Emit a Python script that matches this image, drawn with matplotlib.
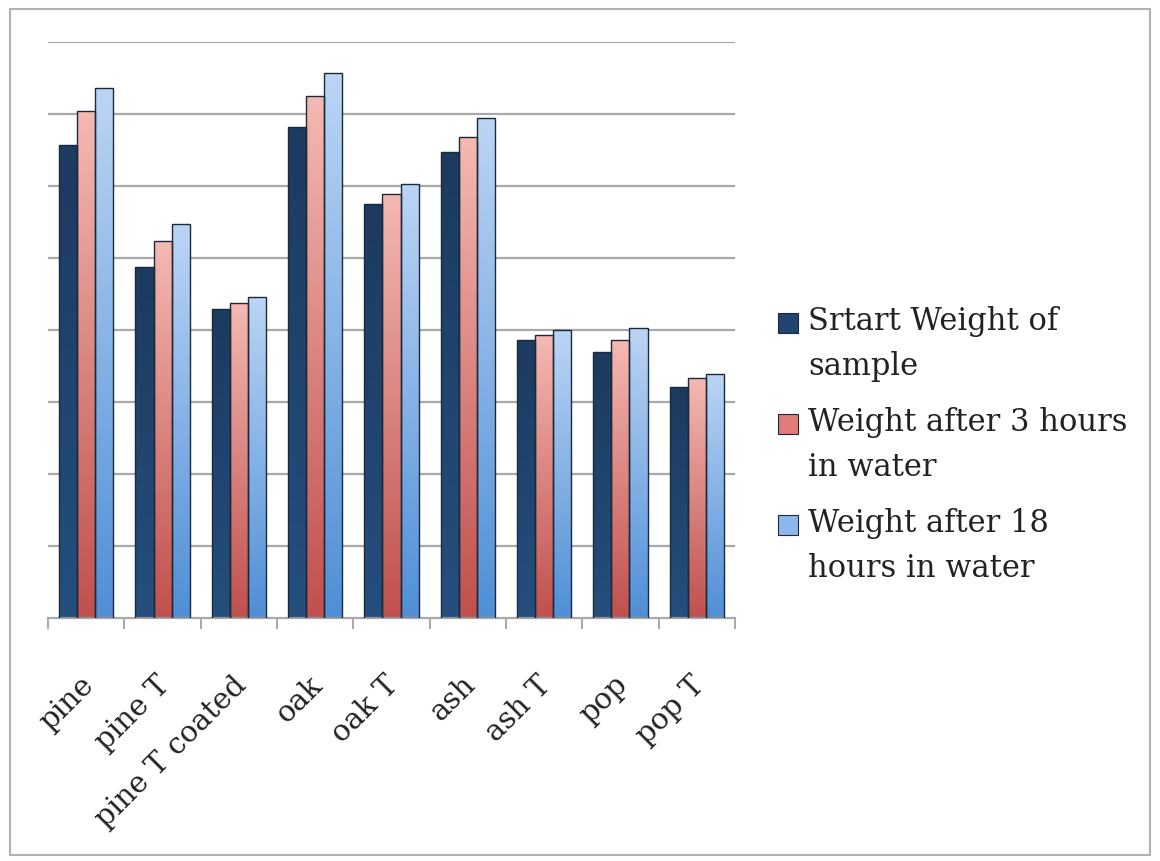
import numpy as np
import matplotlib.pyplot as plt
import matplotlib.transforms as mtransforms
from matplotlib.colors import LinearSegmentedColormap
from matplotlib.patches import Rectangle

woods = ["pine", "pine T", "pine T coated", "oak", "oak T", "ash", "ash T", "pop", "pop T"]
start_weight = [65.7, 48.8, 42.9, 68.2, 57.5, 64.7, 38.6, 36.9, 32.1]
after_3h = [70.4, 52.4, 43.8, 72.5, 58.9, 66.8, 39.3, 38.6, 33.3]
after_18h = [73.6, 54.7, 44.6, 75.7, 60.3, 69.4, 40.0, 40.3, 33.9]
series_names = ["Srtart Weight of\nsample", "Weight after 3 hours\nin water", "Weight after 18\nhours in water"]

# (top colour, bottom colour) for each series
grads = [("#1d3a5f", "#244f7e"), ("#f5b9b3", "#c0504d"), ("#bcd5f5", "#4f8fd6")]
swatch = ["#1f4570", "#e07b78", "#8db6ea"]
serif = ["DejaVu Serif"]

fig = plt.figure(figsize=(11.6, 8.61), dpi=100)
ax = fig.add_axes([0.0414, 0.2822, 0.5922, 0.669])

x = np.arange(len(woods))
w = 0.236
ymax = 80
for i, vals in enumerate([start_weight, after_3h, after_18h]):
    bars = ax.bar(x + (i - 1) * w, vals, w, facecolor="none",
                  edgecolor="#1a2a3a", linewidth=1.0, zorder=3)
    cmap = LinearSegmentedColormap.from_list("g%d" % i, [grads[i][1], grads[i][0]])
    for b in bars:
        bx, by = b.get_x(), b.get_y()
        bw, bh = b.get_width(), b.get_height()
        im = ax.imshow(np.linspace(0, 1, 256).reshape(-1, 1), cmap=cmap, origin="lower",
                       extent=[bx, bx + bw, by, by + bh], aspect="auto", zorder=2)
        im.set_clip_path(b)

ax.set_xlim(-0.5, len(woods) - 0.5)
ax.set_ylim(0, ymax)
ax.set_yticks(np.arange(10, ymax + 1, 10))
ax.yaxis.grid(True, color="#a8a8a8", linewidth=1.6)
ax.set_axisbelow(True)
ax.tick_params(axis="y", length=0, labelleft=False)
for s in ["left", "right", "top"]:
    ax.spines[s].set_visible(False)
ax.spines["bottom"].set_color("#a8a8a8")
ax.spines["bottom"].set_linewidth(1.6)

# ticks sit between groups, labels sit under each group
ax.set_xticks(np.arange(-0.5, len(woods)), minor=False)
ax.set_xticklabels([])
ax.tick_params(axis="x", which="major", length=8, color="#a8a8a8", width=1.4)
ax.set_xticks(x, minor=True)
ax.set_xticklabels(woods, minor=True, rotation=45, ha="right", rotation_mode="anchor",
                   fontsize=21, family=serif, color="#222222")
ax.tick_params(axis="x", which="minor", length=0, pad=38)
shift = mtransforms.ScaledTranslation(-7 / 100, 0, fig.dpi_scale_trans)
for lab in ax.get_xticklabels(minor=True):
    lab.set_transform(lab.get_transform() + shift)

# legend drawn by hand so the swatch lines up with the first text line
for i, name in enumerate(series_names):
    base = 330 + 101 * i
    fig.patches.append(Rectangle((778 / 1160, 1 - (base + 3) / 861), 20 / 1160, 20 / 861,
                                 transform=fig.transFigure, facecolor=swatch[i],
                                 edgecolor="#1a2a3a", linewidth=0.8))
    for j, line in enumerate(name.split("\n")):
        fig.text(808 / 1160, 1 - (base + 45 * j) / 861, line, fontsize=22, family=serif,
                 color="#222222", va="baseline", ha="left")

fig.patches.append(Rectangle((0.009, 0.007), 0.982, 0.983, transform=fig.transFigure,
                             fill=False, edgecolor="#b0b0b0", linewidth=1.5))

fig.savefig("out.png", dpi=100)
